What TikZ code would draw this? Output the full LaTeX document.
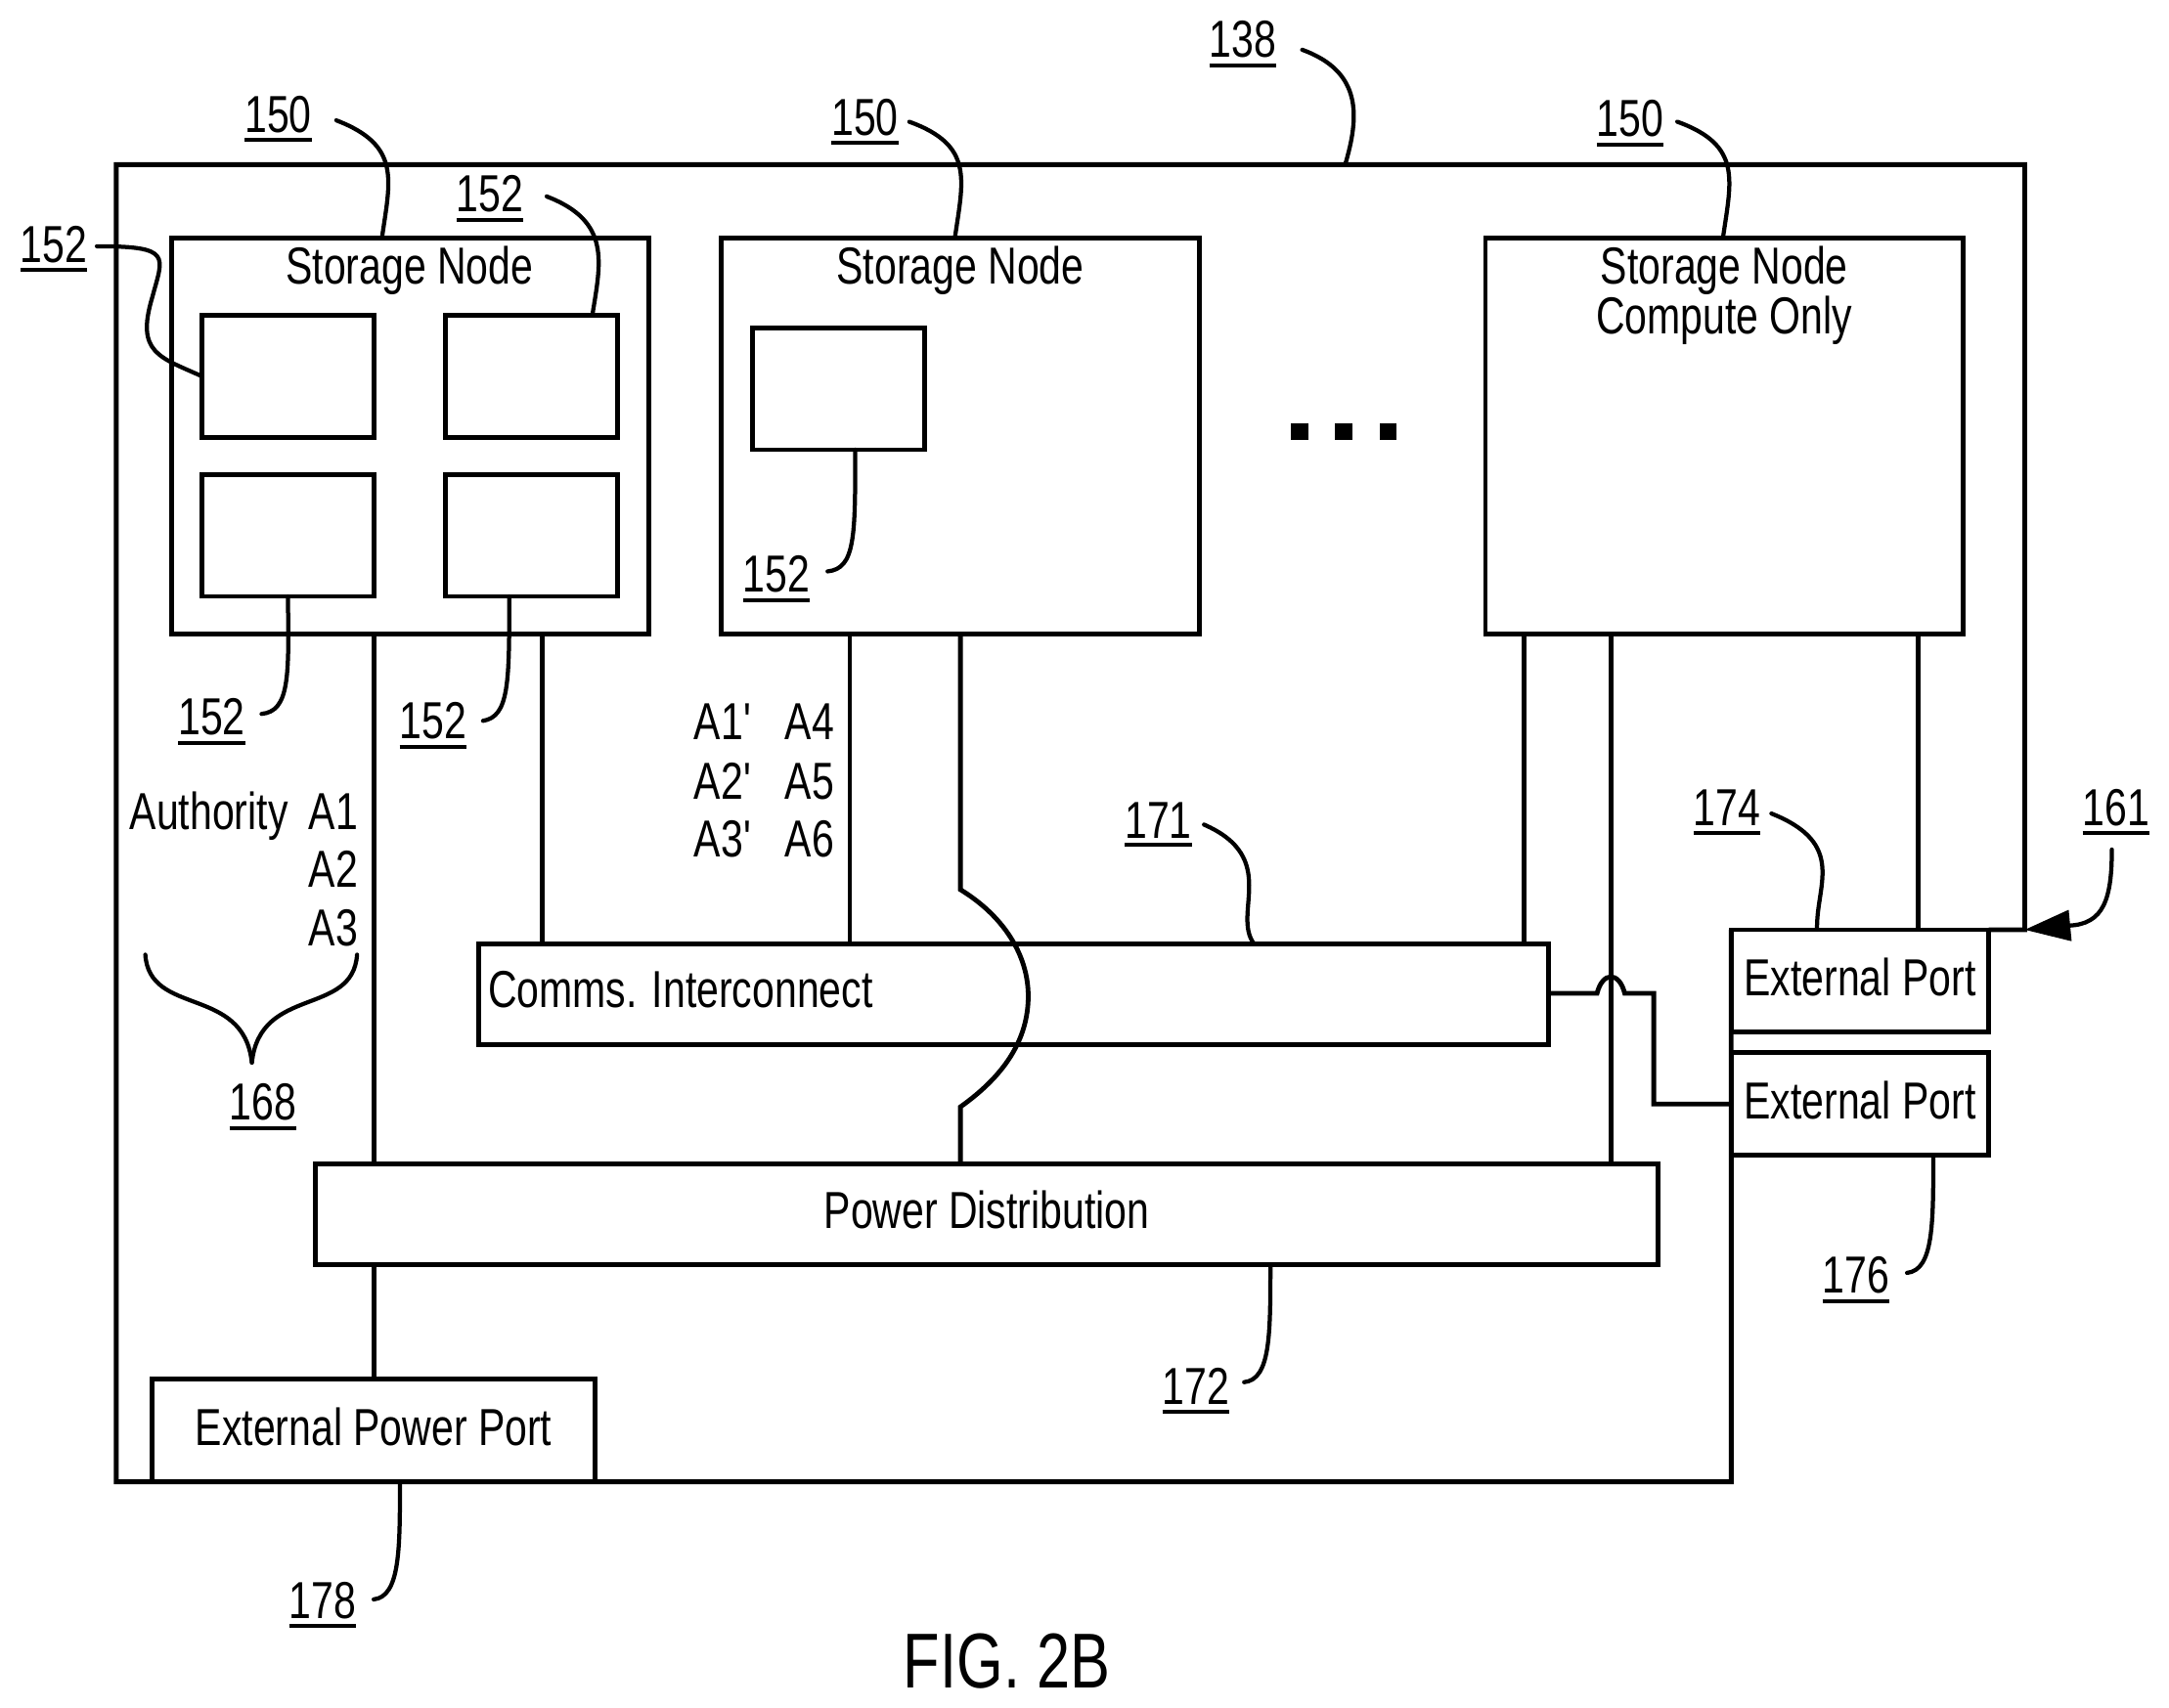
\documentclass[tikz,border=0pt]{standalone}
\usepackage{fontspec}
\setmainfont{Liberation Sans}[FakeStretch=0.77]
\usetikzlibrary{arrows.meta}
\newcommand{\reflab}[1]{\vtop{\hbox{#1}\kern1.1pt\hrule height 0.8pt}}

\begin{document}
\begin{tikzpicture}[x=0.01cm, y=-0.01cm, line width=0.034cm, line join=miter,
                txt/.style={font=\fontsize{10.7}{10.2}\selectfont, inner sep=0pt},
                captxt/.style={txt, text height=7.7pt, text depth=0pt},
                reflabel/.style={txt},
                box/.style={draw, inner sep=0pt, outer sep=0pt, minimum width=#1},
                box/.default=1.24cm,
                card/.style={box, minimum height=0.88cm},
                snode/.style={box=3.45cm, minimum height=2.86cm},
                port/.style={box=1.86cm, minimum height=0.74cm},
                lead/.style={line width=0.03cm, line cap=round},
                dotbox/.style={fill, inner sep=0pt, minimum size=0.125cm},
              ]
  \useasboundingbox (0,0) rectangle (1567.3,1234.5);
  % frame
  \coordinate (f1) at (84,119);
  \coordinate (f2) at (1463,119);
  \coordinate (f3) at (84,1071);
  \coordinate (f4) at (1251,1071);

  % storage nodes
  \node [snode] at (296.5,315) (s1) {};
  \node [snode] at (694,315) (s2) {};
  \node [snode] at (1246,315) (s3) {};
  \node [captxt] at (296,192) (t1) {Storage Node};
  \node [captxt] at (694,192) (t2) {Storage Node};
  \node [txt, align=center, anchor=north] at (1246,176.5) (t3) {Storage Node\\[0pt]Compute Only};

  \node [card] at (208,272) (c1) {};
  \node [card] at (384,272) (c2) {};
  \node [card] at (208,387) (c3) {};
  \node [card] at (384,387) (c4) {};
  \node [card] at (606,281) (c5) {};

  \node [dotbox] at (939,312) (d1) {};
  \node [dotbox] at (971,312) (d2) {};
  \node [dotbox] at (1003,312) (d3) {};

  % buses and ports
  \node [box=7.73cm, minimum height=0.73cm] at (732.5,718.5) (comms) {};
  \node [txt, right] at (351,715) (commstxt) {Comms. Interconnect};
  \node [box=9.7cm, minimum height=0.73cm] at (713,877.5) (power) {};
  \node [captxt] at (713,874) (powertxt) {Power Distribution};
  \node [port] at (1344,709) (p1) {};
  \node [captxt] at (1344,706) (p1txt) {External Port};
  \node [port] at (1344,798) (p2) {};
  \node [captxt] at (1344,795) (p2txt) {External Port};
  \node [box=3.2cm, minimum height=0.74cm] at (270,1034) (p3) {};
  \node [captxt] at (270,1031) (p3txt) {External Power Port};

  \draw (p1.north east) -- (f2 |- p1.north) -- (f2) -- (f1) -- (f3) -- (f4) -- (p1.north west);

  % wires
  \coordinate (w1) at (270,0);
  \coordinate (w2) at (392,0);
  \coordinate (w3) at (614,0);
  \coordinate (w4) at (694,0);
  \coordinate (w5) at (1101,0);
  \coordinate (w6) at (1164,0);
  \coordinate (w7) at (1386,0);
  \draw (w1 |- s1.south) -- (w1 |- power.north);
  \draw (w1 |- power.south) -- (w1 |- p3.north);
  \draw (w2 |- s1.south) -- (w2 |- comms.north);
  \draw (w3 |- s2.south) -- (w3 |- comms.north);
  \draw (w4 |- s2.south) -- (694,643) .. controls (725,662) and (743,690) .. (743,720)
        .. controls (743,752) and (725,778) .. (694,800) -- (w4 |- power.north);
  \draw (w5 |- s3.south) -- (w5 |- comms.north);
  \draw (w6 |- s3.south) -- (w6 |- power.north);
  \draw (w7 |- s3.south) -- (w7 |- p1.north);
  \draw (comms.east |- 0,718) -- (1154,718) .. controls (1156,710) and (1160,706) .. (1164,706)
        .. controls (1168,706) and (1172,710) .. (1174,718) -- (1195,718) -- (1195,798) -- (p2.west);

  % authorities
  \node [captxt] at (151,586) (auth) {Authority};
  \node [captxt] at (241,586) (a1) {A1};
  \node [captxt] at (241,628) (a2) {A2};
  \node [captxt] at (241,670) (a3) {A3};
  \node [captxt] at (523,521) (b1) {A1\textquotesingle};
  \node [captxt] at (523,564) (b2) {A2\textquotesingle};
  \node [captxt] at (523,606) (b3) {A3\textquotesingle};
  \node [captxt] at (585,521) (b4) {A4};
  \node [captxt] at (585,564) (b5) {A5};
  \node [captxt] at (585,606) (b6) {A6};
  \coordinate (brace) at (182,768);
  \draw [lead] (105,690) .. controls (108,735) and (176,712) .. (brace);
  \draw [lead] (258,690) .. controls (255,735) and (188,712) .. (brace);

  % reference numerals
  \node [reflabel] at (898,32) (l138) {\reflab{138}};
  \node [reflabel] at (201,86) (l150a) {\reflab{150}};
  \node [reflabel] at (625,88) (l150b) {\reflab{150}};
  \node [reflabel] at (1178,89) (l150c) {\reflab{150}};
  \node [reflabel] at (354,143.5) (l152a) {\reflab{152}};
  \node [reflabel] at (39,180) (l152b) {\reflab{152}};
  \node [reflabel] at (153,521.5) (l152c) {\reflab{152}};
  \node [reflabel] at (313,524.5) (l152d) {\reflab{152}};
  \node [reflabel] at (561,418.5) (l152e) {\reflab{152}};
  \node [reflabel] at (837,596) (l171) {\reflab{171}};
  \node [reflabel] at (1248,587) (l174) {\reflab{174}};
  \node [reflabel] at (1529,587) (l161) {\reflab{161}};
  \node [reflabel] at (190,800) (l168) {\reflab{168}};
  \node [reflabel] at (1341,925) (l176) {\reflab{176}};
  \node [reflabel] at (864,1005) (l172) {\reflab{172}};
  \node [reflabel] at (233,1160) (l178) {\reflab{178}};
  \node [font=\fontsize{16}{18}\selectfont, inner sep=0pt] at (727.5,1200.5) (fig) {FIG. 2B};

  % leaders
  \draw [lead] (941,36) .. controls (985,52) and (982,85) .. (972,119);
  \draw [lead] (243,87) .. controls (290,105) and (282,130) .. (s1.north -| 276,0);
  \draw [lead] (657,88) .. controls (704,105) and (696,130) .. (s2.north -| 690,0);
  \draw [lead] (1212,88) .. controls (1259,105) and (1251,130) .. (s3.north -| 1245,0);
  \draw [lead] (395,142) .. controls (442,160) and (434,190) .. (c2.north -| 428,0);
  \draw [lead] (70,178) .. controls (125,178) and (118,185) .. (110,215)
        .. controls (98,255) and (115,258) .. (c1.west);
  \draw [lead] (c3.south) .. controls (209,490) and (209,514) .. (189,516);
  \draw [lead] (c4.south -| 368,0) .. controls (368,493) and (368,518) .. (349,521);
  \draw [lead] (c5.south -| 618,0) .. controls (618,388) and (618,411) .. (598,413);
  \draw [lead] (870,596) .. controls (925,620) and (890,660) .. (comms.north -| 906,0);
  \draw [lead] (1280,588) .. controls (1335,610) and (1312,640) .. (p1.north -| 1313,0);
  \draw [lead] (p2.south -| 1397,0) .. controls (1397,885) and (1397,918) .. (1378,920);
  \draw [lead] (power.south -| 918,0) .. controls (918,965) and (918,997) .. (899,999);
  \draw [lead] (p3.south -| 289,0) .. controls (289,1120) and (289,1154) .. (270,1156);
  \draw [lead, -{Triangle[length=0.33cm,width=0.22cm]}] (1526,614) .. controls (1526,650) and (1520,668) .. (1495,669) -- (1463,672);
\end{tikzpicture}
\end{document}
